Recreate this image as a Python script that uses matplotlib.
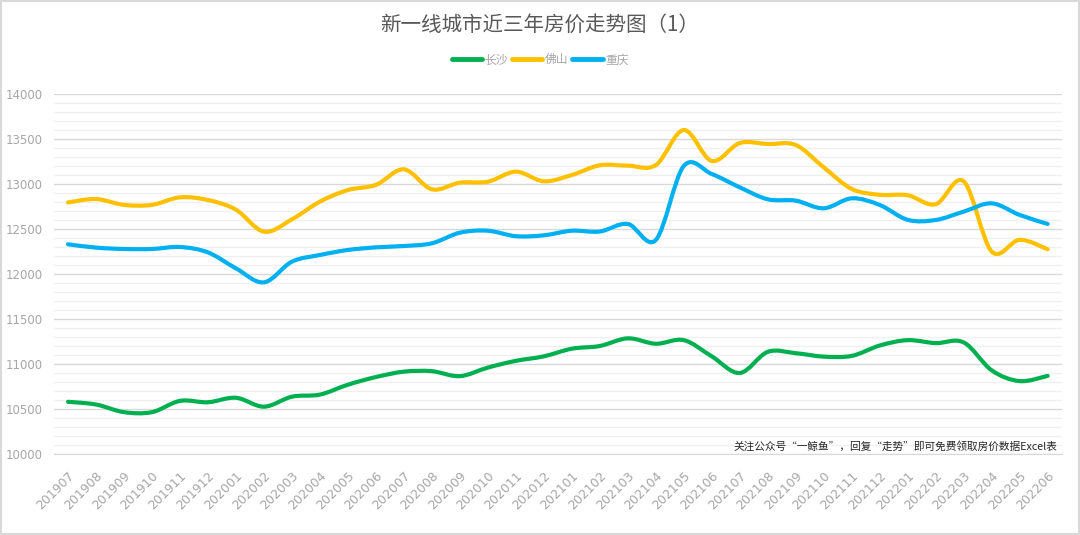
import numpy as np
import matplotlib
matplotlib.use("Agg")
import matplotlib.pyplot as plt
from matplotlib.path import Path
from matplotlib.patches import PathPatch, Rectangle
from matplotlib.lines import Line2D

plt.rcParams['font.family'] = ['Noto Sans CJK SC', 'DejaVu Sans']

months = ["201907", "201908", "201909", "201910", "201911", "201912",
          "202001", "202002", "202003", "202004", "202005", "202006",
          "202007", "202008", "202009", "202010", "202011", "202012",
          "202101", "202102", "202103", "202104", "202105", "202106",
          "202107", "202108", "202109", "202110", "202111", "202112",
          "202201", "202202", "202203", "202204", "202205", "202206"]

changsha = [10580, 10550, 10465, 10465, 10590, 10575, 10625, 10526, 10637, 10660,
            10770, 10855, 10915, 10920, 10865, 10960, 11035, 11085,
            11170, 11200, 11285, 11225, 11265, 11085, 10900, 11135,
            11120, 11082, 11090, 11205, 11265, 11232, 11240, 10930, 10810, 10868]

foshan = [12795, 12833, 12768, 12768, 12852, 12822, 12715, 12470, 12607, 12804,
          12933, 12990, 13163, 12941, 13015, 13025, 13137, 13030,
          13100, 13208, 13204, 13210, 13600, 13256, 13455, 13444,
          13433, 13185, 12945, 12880, 12875, 12775, 13030, 12250, 12380, 12275]

chongqing = [12330, 12293, 12278, 12278, 12300, 12240, 12063, 11907, 12137, 12211,
             12267, 12296, 12311, 12341, 12459, 12481, 12420, 12430,
             12481, 12472, 12556, 12378, 13200, 13111, 12963, 12830,
             12815, 12730, 12841, 12767, 12602, 12600, 12693, 12785, 12656, 12556]

series = [("长沙", changsha, "#00B050"),
          ("佛山", foshan, "#FFC000"),
          ("重庆", chongqing, "#00B0F0")]

title = "新一线城市近三年房价走势图（1）"
note = "关注公众号“一鲸鱼”，回复“走势”即可免费领取房价数据Excel表"


def smooth_path(x, y):
    x = np.asarray(x, float)
    y = np.asarray(y, float)
    n = len(x)
    px = np.concatenate([[x[0]], x, [x[-1]]])
    py = np.concatenate([[y[0]], y, [y[-1]]])
    verts = [(x[0], y[0])]
    codes = [Path.MOVETO]
    for i in range(n - 1):
        j = i + 1
        c1 = (px[j] + (px[j + 1] - px[j - 1]) / 6, py[j] + (py[j + 1] - py[j - 1]) / 6)
        c2 = (px[j + 1] - (px[j + 2] - px[j]) / 6, py[j + 1] - (py[j + 2] - py[j]) / 6)
        verts += [c1, c2, (px[j + 1], py[j + 1])]
        codes += [Path.CURVE4] * 3
    return Path(verts, codes)


fig = plt.figure(figsize=(10.8, 5.35), dpi=100)
ax = fig.add_axes([0.05, 0.1514, 0.933, 0.6729])

xs = np.arange(len(months))
for name, vals, color in series:
    patch = PathPatch(smooth_path(xs, vals), fill=False, edgecolor=color,
                      lw=3.0, capstyle='round', joinstyle='round', zorder=3)
    ax.add_patch(patch)

ax.set_xlim(-0.5, len(months) - 0.5)
ax.set_ylim(10000, 14000)
ax.set_yticks(np.arange(10000, 14001, 500))
ax.set_yticks(np.arange(10000, 14001, 100), minor=True)
ax.grid(which='major', axis='y', color='#d9d9d9', lw=1.0, zorder=0)
ax.grid(which='minor', axis='y', color='#f0f0f0', lw=1.0, zorder=0)
ax.set_axisbelow(True)
for s in ['top', 'right', 'left']:
    ax.spines[s].set_visible(False)
ax.spines['bottom'].set_color('#d9d9d9')

ax.set_xticks(xs)
ax.set_xticklabels(months, rotation=45, ha='right', va='top',
                   rotation_mode='anchor', color='#a6a6a6', fontsize=9)
ax.tick_params(axis='x', length=0, pad=11)
ax.tick_params(axis='y', which='both', length=0, pad=8, labelcolor='#a6a6a6',
               labelsize=8.5)
for lbl in ax.get_yticklabels() + ax.get_xticklabels():
    lbl.set_fontfamily(['DejaVu Sans'])

fig.text(0.5, 0.953, title, ha='center', va='center', fontsize=14.8, color='#595959')

handles = [Line2D([0], [0], color=c, lw=3.5, solid_capstyle='round') for _, _, c in series]
fig.legend(handles, [n for n, _, _ in series], loc='center', bbox_to_anchor=(0.5, 0.888),
           ncol=3, frameon=False, fontsize=8.5, handlelength=2.6, handletextpad=0.2,
           columnspacing=0.3, labelcolor='#a6a6a6')

fig.text(0.979, 0.165, note, ha='right', va='center', fontsize=7.7, color='#262626')

fig.add_artist(Rectangle((0.001, 0.002), 0.998, 0.996, transform=fig.transFigure,
                         fill=False, edgecolor='#d9d9d9', lw=1.5))

fig.savefig("out.png", dpi=100, facecolor='white')
